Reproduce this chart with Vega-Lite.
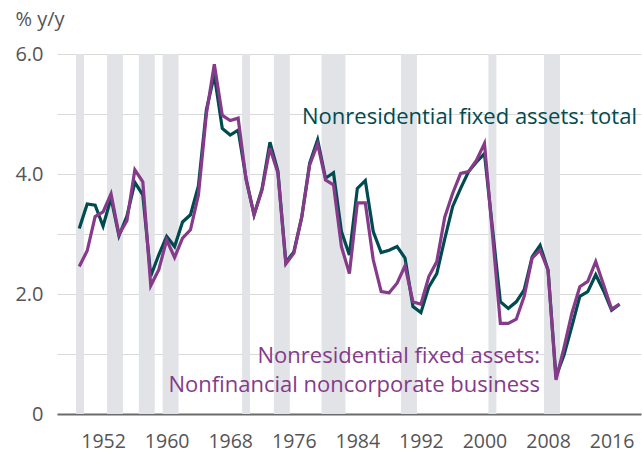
{
  "$schema": "https://vega.github.io/schema/vega-lite/v6.json",
  "width": 584,
  "height": 360,
  "autosize": "none",
  "padding": {"left": 57, "top": 54, "right": 1, "bottom": 41},
  "background": "white",
  "config": {"view": {"stroke": null}, "font": "Open Sans"},
  "datasets": {
    "recessions": [
      {"start": 1948.6, "end": 1949.6},
      {"start": 1952.5, "end": 1954.5},
      {"start": 1956.5, "end": 1958.5},
      {"start": 1959.5, "end": 1961.5},
      {"start": 1969.5, "end": 1970.5},
      {"start": 1973.5, "end": 1975.5},
      {"start": 1979.5, "end": 1982.5},
      {"start": 1989.5, "end": 1991.5},
      {"start": 2000.5, "end": 2001.5},
      {"start": 2007.5, "end": 2009.5}
    ],
    "series": [
      {"year": 1949, "total": 3.09, "noncorp": 2.46},
      {"year": 1950, "total": 3.50, "noncorp": 2.72},
      {"year": 1951, "total": 3.48, "noncorp": 3.29},
      {"year": 1952, "total": 3.13, "noncorp": 3.37},
      {"year": 1953, "total": 3.60, "noncorp": 3.67},
      {"year": 1954, "total": 2.97, "noncorp": 2.99},
      {"year": 1955, "total": 3.30, "noncorp": 3.22},
      {"year": 1956, "total": 3.86, "noncorp": 4.07},
      {"year": 1957, "total": 3.65, "noncorp": 3.87},
      {"year": 1958, "total": 2.30, "noncorp": 2.14},
      {"year": 1959, "total": 2.65, "noncorp": 2.40},
      {"year": 1960, "total": 2.96, "noncorp": 2.90},
      {"year": 1961, "total": 2.79, "noncorp": 2.61},
      {"year": 1962, "total": 3.20, "noncorp": 2.93},
      {"year": 1963, "total": 3.32, "noncorp": 3.07},
      {"year": 1964, "total": 3.80, "noncorp": 3.65},
      {"year": 1965, "total": 5.07, "noncorp": 5.00},
      {"year": 1966, "total": 5.65, "noncorp": 5.83},
      {"year": 1967, "total": 4.76, "noncorp": 4.98},
      {"year": 1968, "total": 4.65, "noncorp": 4.89},
      {"year": 1969, "total": 4.73, "noncorp": 4.93},
      {"year": 1970, "total": 3.92, "noncorp": 3.90},
      {"year": 1971, "total": 3.32, "noncorp": 3.32},
      {"year": 1972, "total": 3.75, "noncorp": 3.73},
      {"year": 1973, "total": 4.53, "noncorp": 4.43},
      {"year": 1974, "total": 4.05, "noncorp": 4.02},
      {"year": 1975, "total": 2.53, "noncorp": 2.50},
      {"year": 1976, "total": 2.70, "noncorp": 2.68},
      {"year": 1977, "total": 3.28, "noncorp": 3.28},
      {"year": 1978, "total": 4.18, "noncorp": 4.15},
      {"year": 1979, "total": 4.57, "noncorp": 4.50},
      {"year": 1980, "total": 3.93, "noncorp": 3.90},
      {"year": 1981, "total": 4.02, "noncorp": 3.82},
      {"year": 1982, "total": 3.04, "noncorp": 2.79},
      {"year": 1983, "total": 2.65, "noncorp": 2.34},
      {"year": 1984, "total": 3.76, "noncorp": 3.52},
      {"year": 1985, "total": 3.89, "noncorp": 3.52},
      {"year": 1986, "total": 3.04, "noncorp": 2.57},
      {"year": 1987, "total": 2.69, "noncorp": 2.04},
      {"year": 1988, "total": 2.73, "noncorp": 2.02},
      {"year": 1989, "total": 2.79, "noncorp": 2.18},
      {"year": 1990, "total": 2.60, "noncorp": 2.47},
      {"year": 1991, "total": 1.79, "noncorp": 1.87},
      {"year": 1992, "total": 1.69, "noncorp": 1.83},
      {"year": 1993, "total": 2.12, "noncorp": 2.29},
      {"year": 1994, "total": 2.34, "noncorp": 2.54},
      {"year": 1995, "total": 2.92, "noncorp": 3.28},
      {"year": 1996, "total": 3.46, "noncorp": 3.68},
      {"year": 1997, "total": 3.76, "noncorp": 4.01},
      {"year": 1998, "total": 4.04, "noncorp": 4.04},
      {"year": 1999, "total": 4.20, "noncorp": 4.23},
      {"year": 2000, "total": 4.34, "noncorp": 4.51},
      {"year": 2001, "total": 3.10, "noncorp": 3.01},
      {"year": 2002, "total": 1.87, "noncorp": 1.51},
      {"year": 2003, "total": 1.76, "noncorp": 1.51},
      {"year": 2004, "total": 1.87, "noncorp": 1.58},
      {"year": 2005, "total": 2.07, "noncorp": 1.96},
      {"year": 2006, "total": 2.62, "noncorp": 2.60},
      {"year": 2007, "total": 2.81, "noncorp": 2.73},
      {"year": 2008, "total": 2.40, "noncorp": 2.40},
      {"year": 2009, "total": 0.62, "noncorp": 0.57},
      {"year": 2010, "total": 0.98, "noncorp": 1.10},
      {"year": 2011, "total": 1.46, "noncorp": 1.68},
      {"year": 2012, "total": 1.96, "noncorp": 2.12},
      {"year": 2013, "total": 2.04, "noncorp": 2.21},
      {"year": 2014, "total": 2.32, "noncorp": 2.54},
      {"year": 2015, "total": 2.05, "noncorp": 2.15},
      {"year": 2016, "total": 1.73, "noncorp": 1.75},
      {"year": 2017, "total": 1.83, "noncorp": 1.83}
    ]
  },
  "layer": [
    {
      "data": {"name": "recessions"},
      "mark": {"type": "rect", "color": "#e1e3e7"},
      "encoding": {
        "x": {
          "field": "start", "type": "quantitative", "title": null,
          "scale": {"domain": [1946.2, 2019.7], "nice": false, "zero": false},
          "axis": {
            "values": [1952, 1960, 1968, 1976, 1984, 1992, 2000, 2008, 2016],
            "format": "d", "grid": false, "ticks": false,
            "domain": true, "domainColor": "#6b6b6b", "domainWidth": 2,
            "labelFontSize": 19.5, "labelColor": "#555555", "labelPadding": 18,
            "labelFont": "Open Sans"
          }
        },
        "x2": {"field": "end"},
        "y": {
          "datum": 0, "type": "quantitative", "title": "% y/y",
          "scale": {"domain": [0, 6], "nice": false},
          "axis": {
            "values": [0, 1, 2, 3, 4, 5, 6],
            "labelExpr": "datum.value == 0 ? '0' : (datum.value % 2 == 0 ? format(datum.value, '.1f') : '')",
            "grid": true, "gridColor": "#d9d9d9", "gridWidth": 1,
            "ticks": false, "domain": false,
            "labelFontSize": 20, "labelColor": "#555555", "labelPadding": 14,
            "labelFont": "Open Sans",
            "titleAngle": 0, "titleAlign": "left", "titleBaseline": "middle",
            "titleX": -42, "titleY": -35, "titleFontSize": 20,
            "titleFontWeight": "normal", "titleColor": "#555555", "titleFont": "Open Sans"
          }
        },
        "y2": {"datum": 6}
      }
    },
    {
      "data": {"name": "series"},
      "mark": {"type": "line", "color": "#004b50", "strokeWidth": 3.2, "strokeJoin": "miter"},
      "encoding": {
        "x": {"field": "year", "type": "quantitative", "title": null},
        "y": {"field": "total", "type": "quantitative", "title": "% y/y"}
      }
    },
    {
      "data": {"name": "series"},
      "mark": {"type": "line", "color": "#853a8a", "strokeWidth": 3.2, "strokeJoin": "miter"},
      "encoding": {
        "x": {"field": "year", "type": "quantitative", "title": null},
        "y": {"field": "noncorp", "type": "quantitative", "title": "% y/y"}
      }
    },
    {
      "data": {"values": [{}]},
      "mark": {"type": "text", "align": "right", "baseline": "alphabetic", "fontSize": 22, "font": "Open Sans", "color": "#004b50", "text": "Nonresidential fixed assets: total"},
      "encoding": {
        "x": {"datum": 2019.19, "type": "quantitative", "title": null},
        "y": {"datum": 4.84, "type": "quantitative", "title": "% y/y"}
      }
    },
    {
      "data": {"values": [{}]},
      "mark": {"type": "text", "align": "right", "baseline": "alphabetic", "fontSize": 22, "font": "Open Sans", "color": "#853a8a", "lineHeight": 29, "text": ["Nonresidential fixed assets:", "Nonfinancial noncorporate business"]},
      "encoding": {
        "x": {"datum": 2007.0, "type": "quantitative", "title": null},
        "y": {"datum": 0.858, "type": "quantitative", "title": "% y/y"}
      }
    }
  ]
}
